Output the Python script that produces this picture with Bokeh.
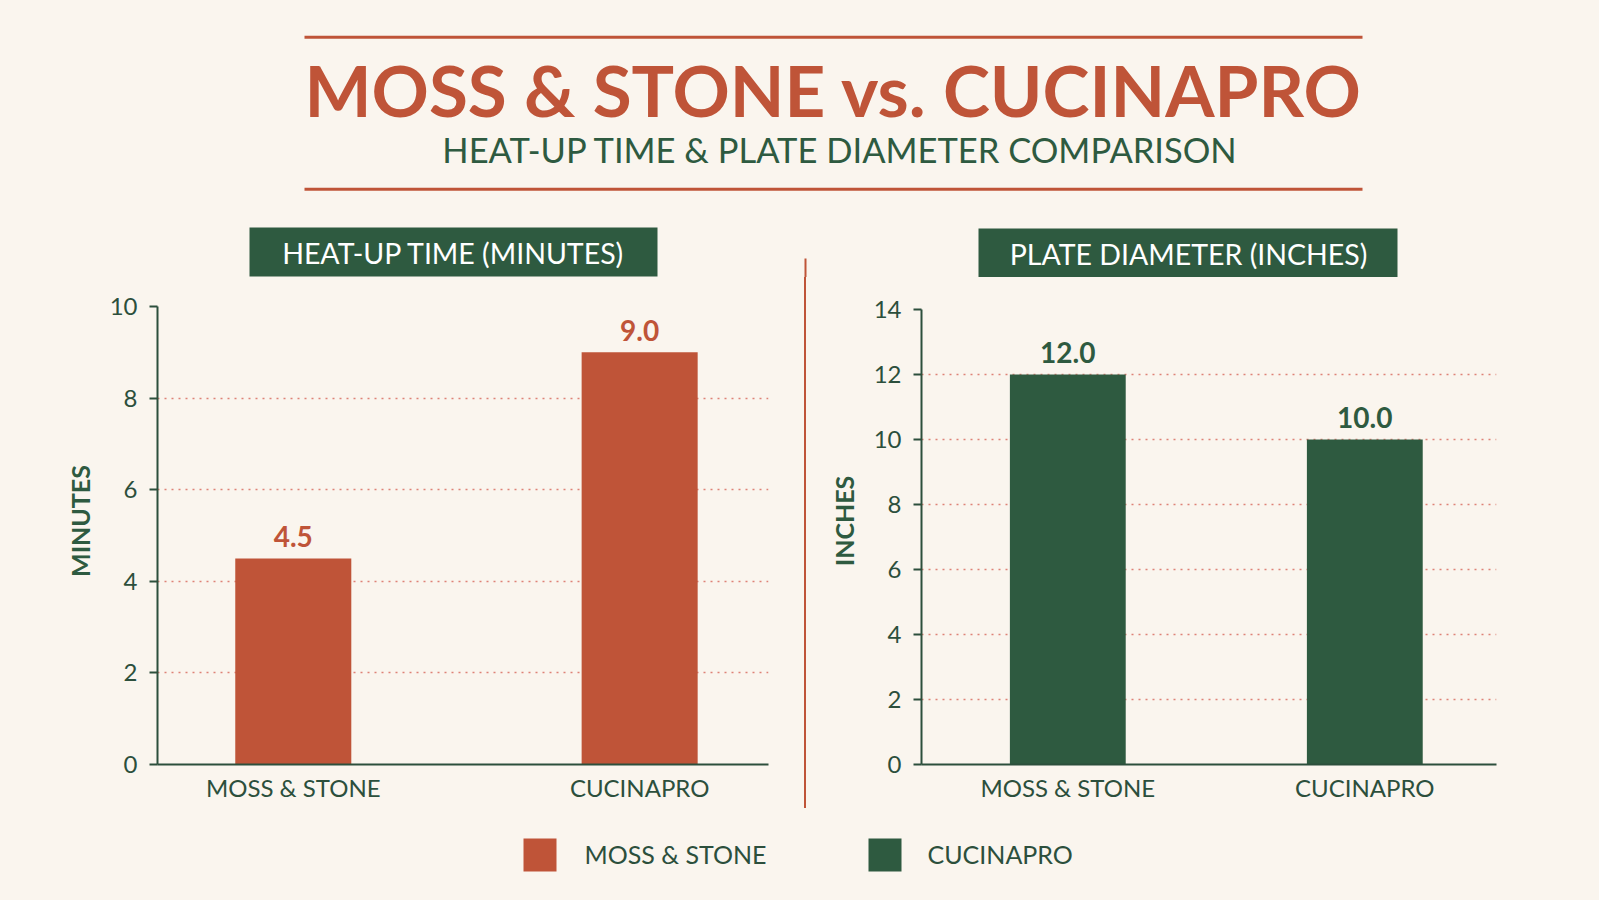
from bokeh.plotting import figure
from bokeh.layouts import column, row
from bokeh.models import Range1d, FixedTicker, ColumnDataSource, Div
from bokeh.core.properties import value
from bokeh.embed import file_html
from bokeh.resources import INLINE

# ---- data -------------------------------------------------------------
brands = ["MOSS & STONE", "CUCINAPRO"]
heat_minutes = [4.5, 9.0]
plate_inches = [12.0, 10.0]
heat_ticks = [0, 2, 4, 6, 8, 10]
plate_ticks = [0, 2, 4, 6, 8, 10, 12, 14]

title_text = "MOSS & STONE vs. CUCINAPRO"
subtitle_text = "HEAT-UP TIME & PLATE DIAMETER COMPARISON"
panel_headers = ["HEAT-UP TIME (MINUTES)", "PLATE DIAMETER (INCHES)"]
heat_axis_label = "MINUTES"
plate_axis_label = "INCHES"

# ---- style ------------------------------------------------------------
CREAM = "#FAF5EE"
RUST = "#BF5438"
PINE = "#2E5A40"
INK = "#2C4F3C"
DOTS = "#DE8277"
FONT_NAME = "Lato"
FONT = value(FONT_NAME)
PAGE_W = 1599

HEAD_H = 277          # title band + panel headings
ROW_H = 543           # chart band height
LEGEND_H = 80         # legend band height
FRAME_BOTTOM = 56     # space under the x axis


def canvas(width, height, x0, x1, y_top, y_bottom):
    """Blank drawing surface in page pixel coordinates (y grows downward)."""
    f = figure(width=width, height=height,
               x_range=Range1d(x0, x1), y_range=Range1d(y_bottom, y_top),
               x_axis_type=None, y_axis_type=None,
               toolbar_location=None, output_backend="svg", min_border=0,
               background_fill_color=CREAM, border_fill_color=CREAM,
               outline_line_color=None)
    f.grid.visible = False
    return f


# ---- heading band -----------------------------------------------------
head = canvas(PAGE_W, HEAD_H, 0, PAGE_W, 0, HEAD_H)
head.segment(x0=[304, 304], y0=[36.7, 188.7], x1=[1362, 1362], y1=[36.7, 188.7],
             line_color=RUST, line_width=3)
head.text(x=[833], y=[89], text=[title_text], text_align="center",
          text_baseline="alphabetic", text_color=RUST, text_font=FONT,
          text_font_style="bold", text_font_size="71px")
head.text(x=[840], y=[149], text=[subtitle_text], text_align="center",
          text_baseline="alphabetic", text_color=PINE, text_font=FONT,
          text_font_size="34.5px")
head.quad(left=[249, 978], right=[657, 1397], top=[227, 228], bottom=[276, 277],
          fill_color=PINE, line_color=None)
head.text(x=[453, 1188], y=[252, 253], text=panel_headers,
          text_align="center", text_baseline="middle", text_color="white",
          text_font=FONT, text_font_size="28.5px")
head.segment(x0=[805], y0=[258], x1=[805], y1=[HEAD_H], line_color=RUST, line_width=2)


# ---- bar panels -------------------------------------------------------
def bar_panel(width, border_lr, x_span, top_tick_px, ticks, values, color,
              axis_label, bar_width):
    left, right = border_lr
    zero_px = ROW_H - FRAME_BOTTOM                      # y of value 0 inside the band
    px_per_unit = (zero_px - top_tick_px) / ticks[-1]
    y_end = zero_px / px_per_unit

    p = figure(width=width, height=ROW_H,
               x_range=Range1d(*x_span), y_range=Range1d(0, y_end),
               toolbar_location=None, output_backend="svg",
               min_border_left=left, min_border_right=right,
               min_border_top=0, min_border_bottom=FRAME_BOTTOM,
               background_fill_color=CREAM, border_fill_color=CREAM,
               outline_line_color=None)
    src = ColumnDataSource(dict(x=list(range(len(brands))), top=values,
                                label=[f"{v:.1f}" for v in values]))
    p.vbar(x="x", top="top", width=bar_width, source=src,
           fill_color=color, line_color=None)
    p.text(x="x", y="top", text="label", source=src, y_offset=-22,
           text_align="center", text_baseline="alphabetic", text_color=color,
           text_font=FONT, text_font_style="bold", text_font_size="28px")

    p.xgrid.visible = False
    p.ygrid.ticker = FixedTicker(ticks=[t for t in ticks if 0 < t < ticks[-1]])
    p.ygrid.grid_line_color = DOTS
    p.ygrid.grid_line_dash = "2 5"
    p.ygrid.grid_line_width = 1.5

    ya = p.yaxis[0]
    ya.ticker = FixedTicker(ticks=ticks)
    ya.bounds = (0, ticks[-1])
    ya.axis_line_color = INK
    ya.axis_line_width = 2
    ya.major_tick_line_color = INK
    ya.major_tick_line_width = 2
    ya.major_tick_out = 8
    ya.major_tick_in = 0
    ya.minor_tick_line_color = None
    ya.major_label_standoff = 12
    ya.major_label_text_font = FONT_NAME
    ya.major_label_text_font_size = "24px"
    ya.major_label_text_color = INK
    ya.axis_label = axis_label
    ya.axis_label_standoff = 12
    ya.axis_label_text_font = FONT_NAME
    ya.axis_label_text_font_size = "25px"
    ya.axis_label_text_font_style = "bold"
    ya.axis_label_text_color = PINE

    xa = p.xaxis[0]
    xa.ticker = FixedTicker(ticks=list(range(len(brands))))
    xa.major_label_overrides = {i: b for i, b in enumerate(brands)}
    xa.bounds = (x_span[0] - 0.025, x_span[1])
    xa.axis_line_color = INK
    xa.axis_line_width = 2
    xa.major_tick_line_color = None
    xa.minor_tick_line_color = None
    xa.major_label_standoff = 2
    xa.major_label_text_font = FONT_NAME
    xa.major_label_text_font_size = "24px"
    xa.major_label_text_color = INK
    return p


# the chart band starts at page y = HEAD_H; tick tops are given in band pixels
heat = bar_panel(800, (157, 32), (-0.392, 1.372), 306 - HEAD_H, heat_ticks,
                 heat_minutes, RUST, heat_axis_label, 0.335)
plate = bar_panel(789, (111, 103), (-0.4926, 1.4434), 309 - HEAD_H, plate_ticks,
                  plate_inches, PINE, plate_axis_label, 0.39)

# thin rule between the two panels
divider = Div(width=10, height=ROW_H, margin=0,
              text='<div style="margin:0 0 0 4px;width:2px;height:%dpx;'
                   'background:%s"></div>' % (808 - HEAD_H, RUST))

# ---- legend band ------------------------------------------------------
top_y = HEAD_H + ROW_H
legend = canvas(PAGE_W, LEGEND_H, 0, PAGE_W, top_y, top_y + LEGEND_H)
swatch_left = [523, 868]
legend.quad(left=swatch_left, right=[l + 33 for l in swatch_left],
            top=[838, 838], bottom=[871, 871], fill_color=[RUST, PINE], line_color=None)
legend.text(x=[584, 927], y=[853, 853], text=brands, text_align="left",
            text_baseline="middle", text_color=INK, text_font=FONT,
            text_font_size="25px")

page = column(head, row(heat, divider, plate, spacing=0), legend, spacing=0)

html = file_html(page, INLINE, title="Moss & Stone vs. CucinaPro")
cut = html.rfind("</head>")
page_css = "<style>html,body{margin:0;padding:0;background:%s;}</style>" % CREAM
html = html[:cut] + page_css + html[cut:]
open("out.html", "w").write(html)
